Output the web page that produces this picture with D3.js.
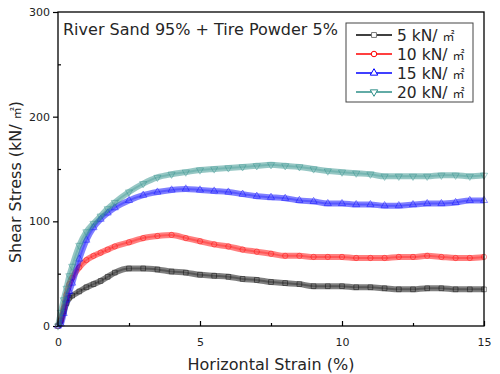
<!DOCTYPE html>
<html>
<head>
<meta charset="utf-8">
<script src="https://cdn.jsdelivr.net/npm/d3@7"></script>
<style>
  body { margin: 0; background: #fff; }
  text { font-family: "DejaVu Sans", sans-serif; fill: #262626; }
  .unit { font-family: "Noto Sans CJK KR", sans-serif; }
</style>
</head>
<body>
<div id="chart"></div>
<script>
// horizontal strain (%) where stress was read
var strain = [0, 0.1, 0.2, 0.3, 0.4, 0.5, 0.75, 1, 1.25, 1.5, 1.75, 2, 2.5, 3, 3.5, 4, 4.5, 5,
    5.5, 6, 6.5, 7, 7.5, 8, 8.5, 9, 9.5, 10, 10.5, 11, 11.5, 12, 12.5, 13, 13.5, 14, 14.5, 15];

// shear stress (kN/m2) for each normal load
var s5 = [0, 5, 14, 22, 27, 29, 33, 37, 40, 43, 47, 51, 55, 55, 54, 52, 51, 49,
    48, 47, 45, 44, 42, 41, 40, 38, 38, 38, 37, 37, 36, 35, 35, 36, 36, 35, 35, 35];
var s10 = [0, 6, 17, 30, 40, 46, 56, 63, 67, 70, 73, 76, 80, 84, 86, 87, 84, 81,
    78, 76, 73, 71, 69, 67, 67, 66, 66, 66, 65, 65, 65, 66, 66, 67, 66, 65, 65, 66];
var s15 = [0, 2, 12, 25, 33, 41, 64, 82, 94, 102, 108, 113, 120, 125, 128, 130, 131, 130,
    129, 128, 126, 124, 123, 122, 120, 119, 117, 117, 116, 116, 115, 115, 116, 117, 117, 118, 120, 120];
var s20 = [0, 13, 25, 36, 48, 57, 77, 90, 98, 105, 112, 118, 128, 136, 142, 145, 147, 149,
    150, 151, 152, 153, 154, 153, 152, 150, 148, 147, 146, 145, 143, 143, 143, 143, 144, 144, 143, 144];

var loads = ["5", "10", "15", "20"];
var colors = ["#000000", "#ff0000", "#0000ff", "#2e8f89"];
var symbols = [d3.symbolSquare, d3.symbolCircle, d3.symbolTriangle, d3.symbolTriangle];

var xTicks = [0, 5, 10, 15];
var yTicks = [0, 100, 200, 300];

var width = 500, height = 374;
var margin = { top: 12, right: 16, bottom: 48, left: 58 };
var w = width - margin.left - margin.right,
    h = height - margin.top - margin.bottom;

var svg = d3.select("#chart").append("svg")
    .attr("width", width)
    .attr("height", height);

var g = svg.append("g")
    .attr("transform", "translate(" + margin.left + "," + margin.top + ")");

var x = d3.scaleLinear().domain([0, 15]).range([0, w]);
var y = d3.scaleLinear().domain([0, 300]).range([h, 0]);

function tickText(a) {
    a.select(".domain").remove();
    a.selectAll("text").attr("font-size", 11).attr("font-family", "DejaVu Sans, sans-serif").style("fill", "#222");
}

// axes: x ticks inward, y major ticks outward and minor inward
g.append("g")
    .attr("transform", "translate(0," + h + ")")
    .call(d3.axisBottom(x).tickValues([2.5, 7.5, 12.5]).tickSize(-3).tickFormat(""))
    .call(function (a) { a.select(".domain").remove(); });

g.append("g")
    .attr("transform", "translate(0," + h + ")")
    .call(d3.axisBottom(x).tickValues(xTicks).tickSize(-5).tickPadding(12))
    .call(tickText);

g.append("g")
    .call(d3.axisLeft(y).tickValues([50, 150, 250]).tickSize(-3).tickFormat(""))
    .call(function (a) { a.select(".domain").remove(); });

g.append("g")
    .call(d3.axisLeft(y).tickValues(yTicks).tickSize(5).tickPadding(3))
    .call(tickText);

g.selectAll(".tick line").attr("stroke", "#000").attr("stroke-width", 1.2);

// series bands
var series = [s5, s10, s15, s20].map(function (vals, i) {
    return strain.map(function (s, j) { return { x: s, y: vals[j] }; });
});

var line = d3.line()
    .x(function (d) { return x(d.x); })
    .y(function (d) { return y(d.y); })
    .curve(d3.curveMonotoneX);

var plot = g.append("g");

series.forEach(function (data, i) {
    plot.append("path")
        .datum(data)
        .attr("fill", "none")
        .attr("stroke", colors[i])
        .attr("stroke-width", 6)
        .attr("stroke-opacity", 0.5)
        .attr("d", line);
    plot.append("path")
        .datum(data)
        .attr("fill", "none")
        .attr("stroke", colors[i])
        .attr("stroke-width", 2)
        .attr("stroke-opacity", 0.3)
        .attr("d", line);
    plot.selectAll(".m" + i)
        .data(data)
        .enter().append("path")
        .attr("class", "m" + i)
        .attr("transform", function (d) {
            return "translate(" + x(d.x) + "," + y(d.y) + ")" + (i === 3 ? " rotate(180)" : "");
        })
        .attr("d", d3.symbol().type(symbols[i]).size(22))
        .attr("fill", "none")
        .attr("stroke", colors[i])
        .attr("stroke-opacity", 0.55)
        .attr("stroke-width", 0.8);
});

// frame
g.append("rect")
    .attr("width", w)
    .attr("height", h)
    .attr("fill", "none")
    .attr("stroke", "#000")
    .attr("stroke-width", 1.3);

// title inside the plot
g.append("text")
    .attr("x", 5)
    .attr("y", 23)
    .attr("font-size", 16)
    .text("River Sand 95% + Tire Powder 5%");

// legend
var legend = g.append("g").attr("transform", "translate(288,11)");
legend.append("rect")
    .attr("width", 127)
    .attr("height", 79)
    .attr("fill", "#fff")
    .attr("stroke", "#444")
    .attr("stroke-width", 1);

loads.forEach(function (ld, i) {
    var row = legend.append("g").attr("transform", "translate(0," + (12 + i * 19) + ")");
    row.append("line")
        .attr("x1", 10).attr("x2", 46)
        .attr("stroke", colors[i]).attr("stroke-width", 1.5);
    row.append("path")
        .attr("transform", "translate(28,0)" + (i === 3 ? " rotate(180)" : ""))
        .attr("d", d3.symbol().type(symbols[i]).size(24))
        .attr("fill", "#fff")
        .attr("stroke", i === 0 ? "#777" : colors[i])
        .attr("stroke-width", 1);
    var t = row.append("text")
        .attr("x", 51)
        .attr("y", 6)
        .attr("font-size", 15.5);
    t.append("tspan").text(ld + " kN/ ");
    t.append("tspan").attr("class", "unit").attr("font-size", 12).text("㎡");
});

// axis titles
svg.append("text")
    .attr("x", margin.left + w / 2)
    .attr("y", 370)
    .attr("text-anchor", "middle")
    .attr("font-size", 16)
    .text("Horizontal Strain (%)");

var yt = svg.append("text")
    .attr("transform", "translate(21,182) rotate(-90)")
    .attr("text-anchor", "middle")
    .attr("font-size", 16);
yt.append("tspan").text("Shear Stress (kN/ ");
yt.append("tspan").attr("class", "unit").attr("font-size", 12).text("㎡");
yt.append("tspan").text(")");
</script>
</body>
</html>
